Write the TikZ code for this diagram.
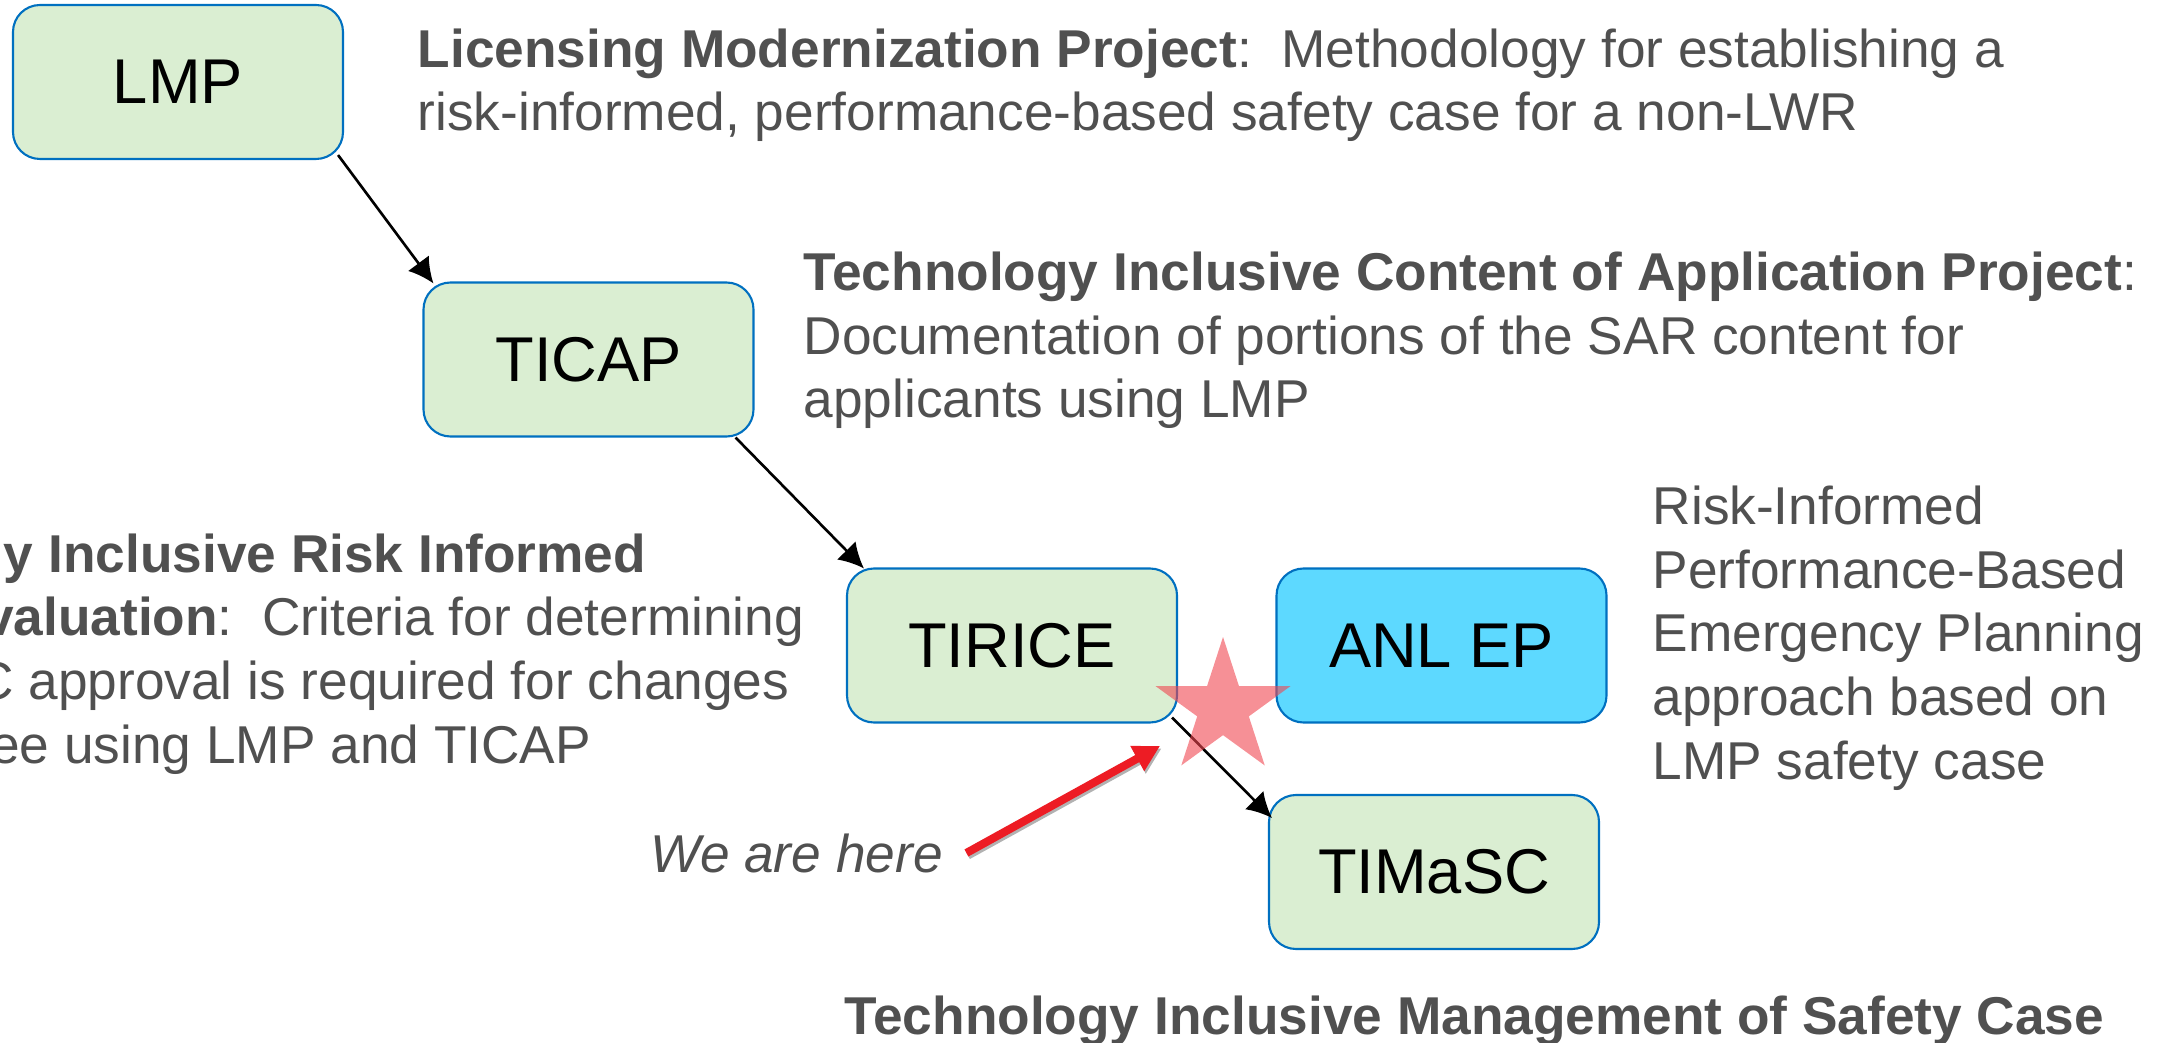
\documentclass[tikz,border=0pt]{standalone}
\usepackage{fontspec}
\setmainfont{Liberation Sans}
\usetikzlibrary{arrows.meta,shapes.geometric}

\definecolor{boxgreen}{RGB}{218,238,210}
\definecolor{boxline}{RGB}{0,112,192}
\definecolor{anlblue}{RGB}{93,217,255}
\definecolor{txtgray}{RGB}{80,80,80}
\definecolor{herered}{RGB}{237,28,36}
\definecolor{starred}{RGB}{240,70,80}

\begin{document}
\begin{tikzpicture}[
    blk/.style={draw=boxline,line width=0.6pt,fill=boxgreen,rounded corners=0.27cm,
        minimum width=3.30cm,minimum height=1.54cm,inner sep=0pt,
        font=\fontsize{18}{21}\selectfont},
    desc/.style={anchor=base west,align=left,inner sep=0pt,text=txtgray,
        font=\fontsize{15.15}{18.1}\selectfont},
    link/.style={line width=0.75pt,-{Latex[length=2.5mm,width=2.6mm]}},
    pointy/.style={line width=2.3pt,-{Triangle[length=2.6mm,width=2.7mm]}}
]

\def\wid{21.72}
\def\hei{10.42}

\useasboundingbox (0,0) rectangle (\wid,\hei);
\clip (0,0) rectangle (\wid,\hei);

% the chain of projects
\node[blk] (LMP) at (1.78,9.60) {LMP};
\node[blk] (TICAP) at (5.885,6.825) {TICAP};
\node[blk] (TIRICE) at (10.12,3.965) {TIRICE};
\node[blk,fill=anlblue] (ANLEP) at (14.415,3.965) {ANL EP};
\node[blk] (TIMaSC) at (14.34,1.70) {TIMaSC};

\draw[link] ([shift={(-0.06,0.05)}]LMP.south east) -- ([shift={(0.11,-0.02)}]TICAP.north west);
\draw[link] ([shift={(-0.19,0)}]TICAP.south east) -- ([shift={(0.18,-0.01)}]TIRICE.north west);
\draw[link] ([shift={(-0.06,0.06)}]TIRICE.south east) -- ([shift={(0.04,-0.24)}]TIMaSC.north west);

% descriptions (base = last line)
\node[desc] (LMPtext) at (4.17,9.11)
    {\textbf{Licensing Modernization Project}:\ \ Methodology for establishing a\\
     risk-informed, performance-based safety case for a non-LWR};
\node[desc] (TICAPtext) at (8.03,6.24)
    {\textbf{Technology Inclusive Content of Application Project}:\\
     Documentation of portions of the SAR content for\\
     applicants using LMP};
\node[desc] (TIRICEtext) at (-2.62,2.79)
    {\textbf{Technology Inclusive Risk Informed}\\
     \textbf{Change Evaluation}:\ \ Criteria for determining\\
     where NRC approval is required for changes\\
     by a licensee using LMP and TICAP};
\node[desc] (ANLEPtext) at (16.52,2.63)
    {Risk-Informed\\
     Performance-Based\\
     Emergency Planning\\
     approach based on\\
     LMP safety case};
\node[desc] (TIMaSCtext) at (8.44,0.08)
    {\textbf{Technology Inclusive Management of Safety Case}};

% we are here
\node[star,star points=5,star point ratio=2.618,minimum size=1.42cm,inner sep=0pt,
    fill=starred,fill opacity=0.6] (mark) at (12.23,3.34) {};
\node[desc,font=\fontsize{15.15}{18}\selectfont\itshape] (here) at (6.50,1.70) {We are here};
\coordinate (pointer) at (11.60,2.96);
\draw[pointy,black!30] ([shift={(0.245,-0.025)}]here.east) -- ([shift={(0.015,-0.025)}]pointer);
\draw[pointy,herered] ([xshift=0.23cm]here.east) -- (pointer);

\end{tikzpicture}
\end{document}
